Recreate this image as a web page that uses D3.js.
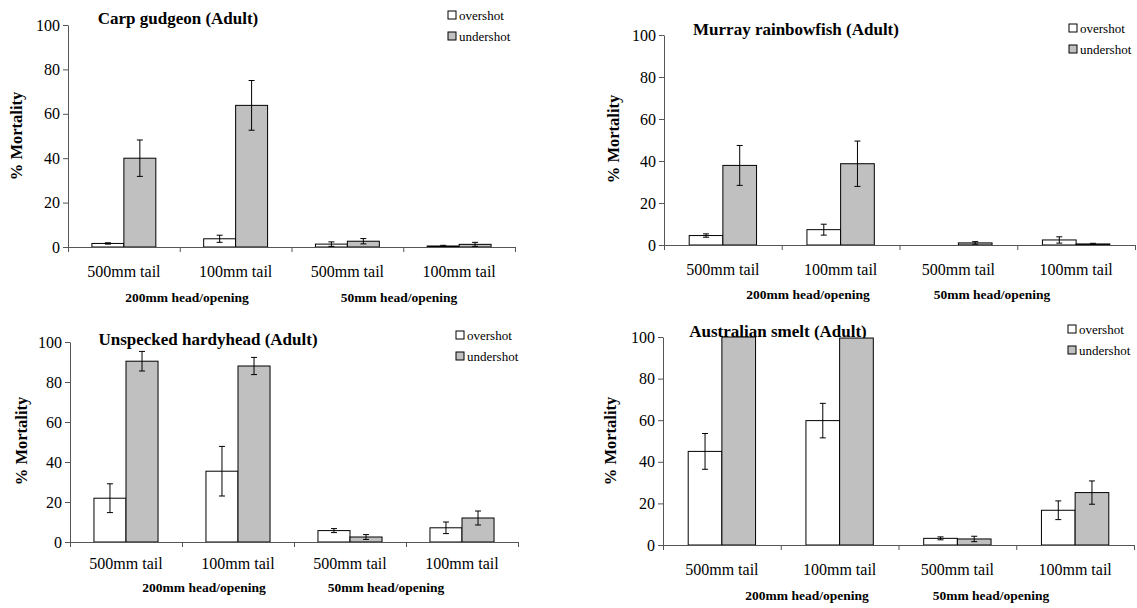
<!DOCTYPE html>
<html>
<head>
<meta charset="utf-8">
<script src="https://cdn.jsdelivr.net/npm/d3@7"></script>
</head>
<body style="margin:0">
<script>
// data ---------------------------------------------------------------
const categories = ["500mm tail", "100mm tail", "500mm tail", "100mm tail"];
const groups = ["200mm head/opening", "50mm head/opening"];
const series = ["overshot", "undershot"];
const yTicks = [0, 20, 40, 60, 80, 100];

const carpOver = [1.6, 3.7, 1.3, 0.45];
const carpOverErr = [0.3, 1.6, 1.0, 0.3];
const carpUnder = [40, 63.8, 2.6, 1.2];
const carpUnderErr = [8.2, 11.2, 1.2, 0.9];

const murrayOver = [4.5, 7.3, 0, 2.4];
const murrayOverErr = [0.8, 2.6, 0, 1.5];
const murrayUnder = [37.9, 38.7, 1.0, 0.5];
const murrayUnderErr = [9.5, 10.8, 0.6, 0.3];

const hardyOver = [21.9, 35.4, 5.7, 7.1];
const hardyOverErr = [7.2, 12.4, 1.0, 2.9];
const hardyUnder = [90.4, 88.0, 2.5, 12.0];
const hardyUnderErr = [4.9, 4.3, 1.2, 3.5];

const smeltOver = [45.0, 59.8, 3.2, 16.7];
const smeltOverErr = [8.6, 8.3, 0.7, 4.5];
const smeltUnder = [100, 99.5, 2.9, 25.2];
const smeltUnderErr = [0, 0, 1.3, 5.6];

// layout -------------------------------------------------------------
const panels = [
  { title: "Carp gudgeon (Adult)", over: carpOver, overErr: carpOverErr, under: carpUnder, underErr: carpUnderErr,
    x0: 68, x1: 515, yTop: 25, yBot: 247, titleX: 178, titleY: 24, legX: 448, legY: 15,
    labX: 16, labY: 136, catY: 277, groupY: 302, groupX: [187, 399] },
  { title: "Murray rainbowfish (Adult)", over: murrayOver, overErr: murrayOverErr, under: murrayUnder, underErr: murrayUnderErr,
    x0: 664, x1: 1135, yTop: 35, yBot: 245, titleX: 796, titleY: 35, legX: 1069, legY: 28,
    labX: 613, labY: 139, catY: 275, groupY: 299, groupX: [808, 992] },
  { title: "Unspecked hardyhead (Adult)", over: hardyOver, overErr: hardyOverErr, under: hardyUnder, underErr: hardyUnderErr,
    x0: 70, x1: 518, yTop: 342, yBot: 542, titleX: 208, titleY: 345, legX: 456, legY: 335,
    labX: 21, labY: 441, catY: 569, groupY: 592, groupX: [204, 386] },
  { title: "Australian smelt (Adult)", over: smeltOver, overErr: smeltOverErr, under: smeltUnder, underErr: smeltUnderErr,
    x0: 663, x1: 1134, yTop: 337, yBot: 545, titleX: 778, titleY: 337, legX: 1068, legY: 329,
    labX: 610, labY: 441, catY: 575, groupY: 600, groupX: [807, 991] }
];

const fills = { overshot: "#ffffff", undershot: "#c0c0c0" };
const axisColor = "#555";
const FONT = "Liberation Serif";

const svg = d3.select("body").append("svg")
  .attr("width", 1137)
  .attr("height", 608);

// 文字のスタイル ---------------------------------------------------------
const txt = (sel, size, bold) => sel
  .attr("font-family", FONT)
  .style("font-family", FONT)
  .attr("font-size", size)
  .attr("font-weight", bold ? "bold" : "normal")
  .attr("fill", "#000");

const drawPanel = (p) => {
  const g = svg.append("g");
  const idx = d3.range(categories.length);

  const x = d3.scaleBand().domain(idx).range([p.x0, p.x1]);
  const xs = d3.scaleBand().domain(series)
    .range([x.bandwidth() * 0.214, x.bandwidth() * 0.786]);
  const y = d3.scaleLinear().domain([0, 100]).range([p.yBot, p.yTop]);

  const rows = idx.map(i => [
    { s: "overshot", i, v: p.over[i], e: p.overErr[i] },
    { s: "undershot", i, v: p.under[i], e: p.underErr[i] }
  ]).flat();

  // title (behind bars)
  txt(g.append("text")
    .attr("x", p.titleX).attr("y", p.titleY)
    .attr("text-anchor", "middle"), 17, true)
    .text(p.title);

  // bars
  g.selectAll(".bar").data(rows.filter(d => d.v > 0)).enter()
    .append("rect")
    .attr("x", d => x(d.i) + xs(d.s))
    .attr("width", xs.bandwidth())
    .attr("y", d => y(d.v))
    .attr("height", d => y(0) - y(d.v))
    .attr("fill", d => fills[d.s])
    .attr("stroke", "#000")
    .attr("stroke-width", 1);

  // error bars
  const eb = g.selectAll(".err").data(rows.filter(d => d.e > 0)).enter()
    .append("g")
    .attr("stroke", "#000").attr("stroke-width", 1);
  const cx = d => x(d.i) + xs(d.s) + xs.bandwidth() / 2;
  const lo = d => y(Math.max(0, d.v - d.e));
  const hi = d => y(d.v + d.e);
  eb.append("line")
    .attr("x1", cx).attr("x2", cx)
    .attr("y1", hi).attr("y2", lo);
  eb.append("line")
    .attr("x1", d => cx(d) - 3).attr("x2", d => cx(d) + 3)
    .attr("y1", hi).attr("y2", hi);
  eb.append("line")
    .attr("x1", d => cx(d) - 3).attr("x2", d => cx(d) + 3)
    .attr("y1", lo).attr("y2", lo);

  // y axis
  const yAxis = g.append("g")
    .attr("transform", "translate(" + p.x0 + ",0)")
    .call(d3.axisLeft(y).tickValues(yTicks).tickSize(5).tickPadding(3).tickSizeOuter(0));
  yAxis.attr("font-family", FONT).attr("font-size", 16);
  yAxis.select(".domain").attr("stroke", axisColor);
  yAxis.selectAll(".tick line").attr("stroke", axisColor);
  txt(yAxis.selectAll("text"), 16, false);

  // x axis: ticks at category boundaries
  const bounds = idx.map(i => x(i)).concat([p.x1]);
  const xLin = d3.scaleLinear().domain([p.x0, p.x1]).range([p.x0, p.x1]);
  const xAxis = g.append("g")
    .attr("transform", "translate(0," + p.yBot + ")")
    .call(d3.axisBottom(xLin).tickValues(bounds).tickSize(5).tickSizeOuter(0).tickFormat(""));
  xAxis.select(".domain").attr("stroke", axisColor);
  xAxis.selectAll(".tick line").attr("stroke", axisColor);

  // category labels
  txt(g.selectAll(".cat").data(idx).enter()
    .append("text")
    .attr("x", i => x(i) + x.bandwidth() / 2)
    .attr("y", p.catY)
    .attr("text-anchor", "middle"), 16, false)
    .text(i => categories[i]);

  // group labels
  txt(g.selectAll(".grp").data(groups).enter()
    .append("text")
    .attr("x", (d, i) => p.groupX[i])
    .attr("y", p.groupY)
    .attr("text-anchor", "middle"), 13.5, true)
    .text(d => d);

  // y label
  txt(g.append("text")
    .attr("transform", "translate(" + p.labX + "," + p.labY + ") rotate(-90)")
    .attr("text-anchor", "middle")
    .attr("dy", "0.35em"), 16.5, true)
    .text("% Mortality");

  // legend
  const leg = g.selectAll(".leg").data(series).enter()
    .append("g")
    .attr("transform", (d, i) => "translate(" + p.legX + "," + (p.legY + i * 21) + ")");
  leg.append("rect")
    .attr("x", 0).attr("y", -4).attr("width", 8).attr("height", 8)
    .attr("fill", d => fills[d]).attr("stroke", "#000").attr("stroke-width", 1);
  txt(leg.append("text")
    .attr("x", 11).attr("y", 4.5), 13, false)
    .text(d => d);
};

panels.forEach(drawPanel);
</script>
</body>
</html>
